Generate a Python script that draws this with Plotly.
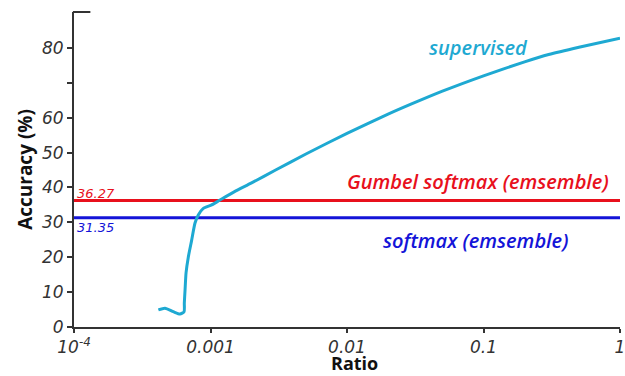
import plotly.graph_objects as go

# supervised accuracy curve (ratio, accuracy %)
ratio = [4.15e-4, 4.64e-4, 5.34e-4, 5.98e-4, 6.40e-4, 6.43e-4, 6.51e-4, 6.62e-4,
         6.88e-4, 7.28e-4, 7.70e-4, 8.14e-4, 8.86e-4, 1.02e-3, 1.174e-3, 1.5e-3,
         2e-3, 3e-3, 5e-3, 1e-2, 2e-2, 3e-2, 5e-2, 0.1, 0.2, 0.3, 0.5, 1.0]
accuracy = [4.9, 5.4, 4.4, 3.7, 4.4, 6.9, 10.6, 15.5,
            20.1, 24.9, 29.8, 32.1, 34.0, 35.0, 36.4, 38.8,
            41.3, 45.0, 49.6, 55.5, 61.0, 64.0, 67.6, 72.0, 76.0, 78.1, 80.2, 82.8]

gumbel_value = 36.27
softmax_value = 31.35

x_tickvals = [1e-4, 1e-3, 1e-2, 1e-1, 1]
x_ticktext = ["10<sup>-4</sup>", "0.001", "0.01", "0.1", "1"]
y_tickvals = [0, 10, 20, 30, 40, 50, 60, 70, 80]
y_ticktext = ["0", "10", "20", "30", "40", "50", "60", "", "80"]

CYAN = "#1ea9d2"
RED = "#e8101c"
BLUE = "#1414d8"
AXIS = "#333333"

fig = go.Figure()

fig.add_trace(go.Scatter(x=[1e-4, 1], y=[gumbel_value, gumbel_value], mode="lines",
                         line=dict(color=RED, width=3), showlegend=False, hoverinfo="skip"))
fig.add_trace(go.Scatter(x=[1e-4, 1], y=[softmax_value, softmax_value], mode="lines",
                         line=dict(color=BLUE, width=3), showlegend=False, hoverinfo="skip"))
fig.add_trace(go.Scatter(x=ratio, y=accuracy, mode="lines",
                         line=dict(color=CYAN, width=3, shape="spline", smoothing=0.6),
                         showlegend=False))

ann_font = dict(family="Open Sans", size=20, weight=600, style="italic")
fig.add_annotation(x=-1.04, y=80.2, xref="x", yref="y", text="supervised", showarrow=False,
                   font=dict(ann_font, color=CYAN))
fig.add_annotation(x=-1.04, y=41.8, xref="x", yref="y", text="Gumbel softmax (emsemble)",
                   showarrow=False, font=dict(ann_font, color=RED))
fig.add_annotation(x=-1.055, y=24.9, xref="x", yref="y", text="softmax (emsemble)",
                   showarrow=False, font=dict(ann_font, color=BLUE))
val_font = dict(family="DejaVu Sans", size=13, style="italic")
fig.add_annotation(x=-4, y=38.3, xref="x", yref="y", text=f"{gumbel_value:.2f}", showarrow=False,
                   xanchor="left", xshift=1, font=dict(val_font, color=RED))
fig.add_annotation(x=-4, y=28.6, xref="x", yref="y", text=f"{softmax_value:.2f}", showarrow=False,
                   xanchor="left", xshift=1, font=dict(val_font, color=BLUE))

fig.add_shape(type="line", xref="paper", yref="paper", x0=-0.002, x1=0.03, y0=1, y1=1,
              line=dict(color=AXIS, width=2))

tick_font = dict(family="DejaVu Sans", size=17, style="italic", color=AXIS)
title_font = dict(family="Open Sans", size=19, weight="bold", color="#111111")

# x-axis title as a paper-anchored label just below the tick labels
fig.add_annotation(x=0.513, y=-0.1556, xref="paper", yref="paper", text="Ratio", showarrow=False,
                   xanchor="center", yanchor="bottom", borderpad=0,
                   font=dict(title_font, size=18))

fig.update_xaxes(type="log", range=[-4, 0], tickvals=x_tickvals, ticktext=x_ticktext,
                 automargin=False, ticklabeloverflow="allow",
                 showgrid=False, zeroline=False, showline=True, linecolor=AXIS, linewidth=2,
                 ticks="outside", ticklen=4, tickwidth=2, tickcolor=AXIS, tickfont=tick_font)
fig.update_yaxes(range=[0, 90.3], tickvals=y_tickvals, ticktext=y_ticktext,
                 automargin=False, ticklabeloverflow="allow",
                 showgrid=False, zeroline=False, showline=True, linecolor=AXIS, linewidth=2,
                 ticks="outside", ticklen=5, tickwidth=2, tickcolor=AXIS, tickfont=tick_font,
                 title=dict(text="Accuracy (%)", font=title_font, standoff=4))

fig.update_layout(width=625, height=376, margin=dict(l=74, r=5, t=12, b=49),
                  plot_bgcolor="white", paper_bgcolor="white")

fig.write_html("out.html", config={"displayModeBar": False},
               post_script="document.body.style.margin='0px';document.body.style.overflow='hidden';")
